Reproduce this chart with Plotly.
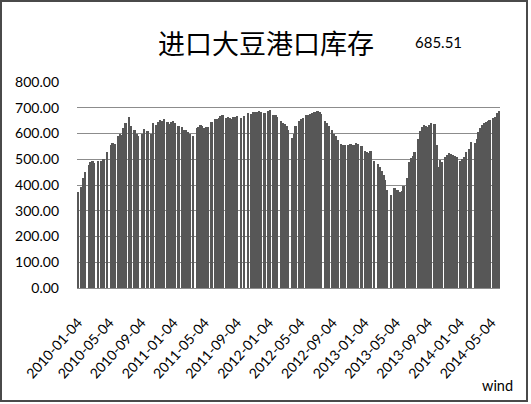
import pandas as pd
import plotly.graph_objects as go

# weekly port soybean inventory (10k tonnes), None = no reading that week
stock = [
    373, None, 394, 427, 452, None, 478, 488, 492, 486,
    None, 494, None, 495, 500, None, 530, None, 556, 562,
    558, None, 590, 600, 596, 622, 640, None, 665, 628,
    None, 612, 600, 590, None, 600, 618, None, 610, None,
    600, 640, None, 633, 645, 652, 648, 655, None, 645,
    638, 646, 650, 642, None, 630, None, 626, 612, 614,
    605, 599, None, 590, None, 621, 625, 633, 628, 621,
    626, 624, None, 646, None, 658, 655, 660, 668, 672,
    None, 662, 665, 660, 658, 663, 665, 668, None, 662,
    None, 668, None, 678, None, 676, 682, 685, 684, 686,
    682, None, 680, None, 688, 690, None, 672, 670, 666,
    None, 648, 639, 636, 630, 612, None, 581, 600, 628,
    None, 648, 655, 660, None, 670, 672, 674, 678, 682,
    685, 686, 684, 676, None, 650, 640, 628, None, 612,
    600, 592, 575, None, 558, 557, 554, None, 556, 560,
    557, 555, 562, 558, None, 550, None, 532, 528, 524,
    531, None, 494, None, 482, 470, 455, 440, 418, 380,
    None, 362, None, 388, 380, 382, 372, 376, 395, None,
    428, 490, 505, 512, 530, None, 578, 608, 626, 633,
    630, 626, 632, 639, None, 636, 555, 470, 497, 490,
    None, 510, 515, 524, 520, 517, 512, 508, None, 495,
    500, 510, 530, None, 540, 566, None, 565, 580, 605,
    620, 633, 640, 646, 650, 652, None, 660, 665, 678,
    685.51,
]
weeks = pd.date_range("2010-01-04", periods=len(stock), freq="7D")

tick_dates = ["2010-01-04", "2010-05-04", "2010-09-04", "2011-01-04", "2011-05-04",
              "2011-09-04", "2012-01-04", "2012-05-04", "2012-09-04", "2013-01-04",
              "2013-05-04", "2013-09-04", "2014-01-04", "2014-05-04"]

title_text = "进口大豆港口库存"
latest = "685.51"
source = "wind"

# plot area in pixels: left 77, right 500, top 82, bottom 288
L, R, T, B = 77, 31, 82, 116
W, H = 531 - L - R, 404 - T - B

def px_x(p):
    return (p - L) / W

def px_y(p):
    return (404 - B - p) / H

fig = go.Figure(go.Bar(
    x=weeks, y=stock,
    marker=dict(color="#575757", line=dict(width=0)),
))

fig.update_layout(
    width=531, height=404,
    margin=dict(l=L, r=R, t=T, b=B),
    paper_bgcolor="white", plot_bgcolor="white",
    bargap=0, showlegend=False,
    font=dict(family="Lato", size=14, color="black"),
    xaxis=dict(
        type="date",
        range=["2009-12-31", "2014-06-06"],
        tickvals=tick_dates, ticktext=tick_dates,
        tickangle=-48, showgrid=False,
        showline=True, linecolor="#8c8c8c", linewidth=1,
        ticks="", ticklabelstandoff=20,
    ),
    yaxis=dict(
        range=[0, 800], dtick=100, tickformat=".2f",
        showgrid=True, gridcolor="#8c8c8c", gridwidth=1,
        zeroline=False, ticks="", ticklabelstandoff=17,
    ),
    annotations=[
        dict(text=title_text, xref="paper", yref="paper", x=px_x(266), y=px_y(42),
             xanchor="center", yanchor="middle", showarrow=False,
             font=dict(family="Noto Sans CJK SC", size=27, color="black")),
        dict(text=latest, xref="paper", yref="paper", x=px_x(438), y=px_y(42),
             xanchor="center", yanchor="middle", showarrow=False,
             font=dict(family="Lato", size=15, color="black")),
        dict(text=source, xref="paper", yref="paper", x=px_x(497), y=px_y(385),
             xanchor="center", yanchor="middle", showarrow=False,
             font=dict(family="Lato", size=14.5, color="black")),
    ],
    shapes=[
        dict(type="rect", xref="paper", yref="paper",
             x0=px_x(1), x1=px_x(527), y0=px_y(401), y1=px_y(1),
             line=dict(color="#4a4a4a", width=2), fillcolor="rgba(0,0,0,0)", layer="above"),
    ],
)

# drop the browser's default 8px body margin so the figure sits at the corner
fig.write_html("out.html", config={"displayModeBar": False},
               post_script="document.body.style.margin='0';")
